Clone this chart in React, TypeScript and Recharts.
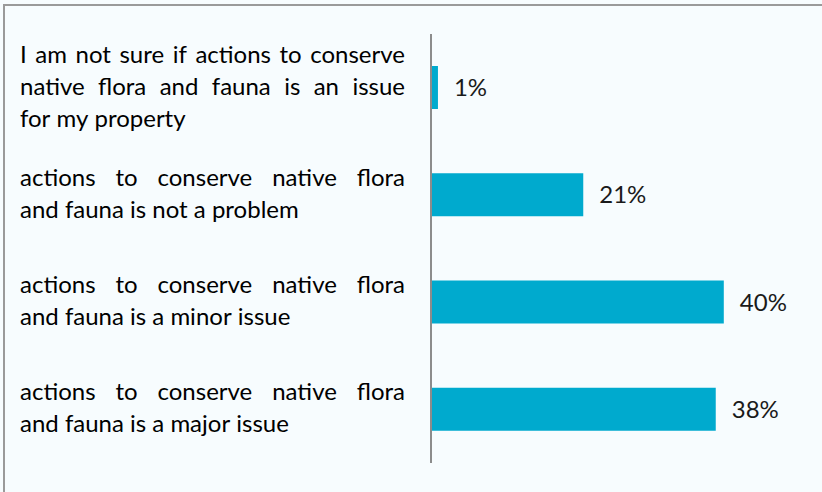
import { BarChart, Bar, XAxis, YAxis, LabelList } from "recharts"

const categories = [
  "I am not sure if actions to conserve native flora and fauna is an issue for my property",
  "actions to conserve native flora and fauna is not a problem",
  "actions to conserve native flora and fauna is a minor issue",
  "actions to conserve native flora and fauna is a major issue",
]

// how the labels wrap in the reference
const categoryLines = [
  ["I am not sure if actions to conserve", "native flora and fauna is an issue", "for my property"],
  ["actions to conserve native flora", "and fauna is not a problem"],
  ["actions to conserve native flora", "and fauna is a minor issue"],
  ["actions to conserve native flora", "and fauna is a major issue"],
]

const shares = [0.95, 20.8, 40, 38.9]
const shareLabels = ["1%", "21%", "40%", "38%"]

const data = categories.map((name, i) => ({
  name,
  value: shares[i],
  label: shareLabels[i],
}))

const FONT = "Lato, 'Open Sans', sans-serif"
const FONT_SIZE = 24
const TEXT_LEFT = 20
const TEXT_RIGHT = 405

let measureCtx: CanvasRenderingContext2D | null = null
function wordWidth(w: string) {
  if (!measureCtx) {
    measureCtx = document.createElement("canvas").getContext("2d")
  }
  if (!measureCtx) return w.length * 10
  measureCtx.font = `${FONT_SIZE}px ${FONT}`
  return measureCtx.measureText(w).width
}

// justified multi-line tick, last line left aligned
function CategoryTick(props: any) {
  const { y, payload, index } = props
  const lines = categoryLines[index ?? 0] ?? [payload.value]
  const n = lines.length
  const spacing = 32
  return (
    <g>
      {lines.map((line: string, li: number) => {
        const baseY = y + (li - (n - 1) / 2) * spacing + 7
        const words = line.split(" ")
        const isLast = li === n - 1
        const widths = words.map(wordWidth)
        const total = widths.reduce((s, v) => s + v, 0)
        const space = wordWidth(" ")
        const gap = isLast || words.length < 2
          ? space
          : Math.max(space * 0.6, (TEXT_RIGHT - TEXT_LEFT - total) / (words.length - 1))
        let cx = TEXT_LEFT
        return words.map((w, wi) => {
          const el = (
            <text key={`${li}-${wi}`} x={cx} y={baseY} fill="#000" fontSize={FONT_SIZE} fontFamily={FONT}>
              {w}
            </text>
          )
          cx += widths[wi] + gap
          return el
        })
      })}
    </g>
  )
}

export default function App() {
  return (
    <div
      style={{
        position: "absolute",
        left: 0,
        top: 0,
        width: 822,
        height: 492,
        background: "#F7FCFE",
        overflow: "hidden",
      }}
    >
      <div
        style={{
          position: "absolute",
          left: 3,
          top: 4,
          width: 830,
          height: 500,
          border: "2px solid #9a9a9a",
          boxSizing: "border-box",
        }}
      />
      <div style={{ position: "absolute", left: 0, top: 0 }}>
        <BarChart
          width={822}
          height={492}
          data={data}
          layout="vertical"
          margin={{ top: 34, right: 25, bottom: 29, left: 0 }}
          barCategoryGap={32}
        >
          <XAxis type="number" domain={[0, 50]} hide />
          <YAxis
            type="category"
            dataKey="name"
            width={431}
            axisLine={{ stroke: "#8c8c8c", strokeWidth: 2 }}
            tickLine={false}
            tick={<CategoryTick />}
            interval={0}
          />
          <Bar dataKey="value" fill="#00AACE" barSize={43} isAnimationActive={false}>
            <LabelList
              dataKey="label"
              position="right"
              offset={16}
              fill="#1a1a1a"
              fontSize={FONT_SIZE}
              fontFamily={FONT}
            />
          </Bar>
        </BarChart>
      </div>
    </div>
  )
}
